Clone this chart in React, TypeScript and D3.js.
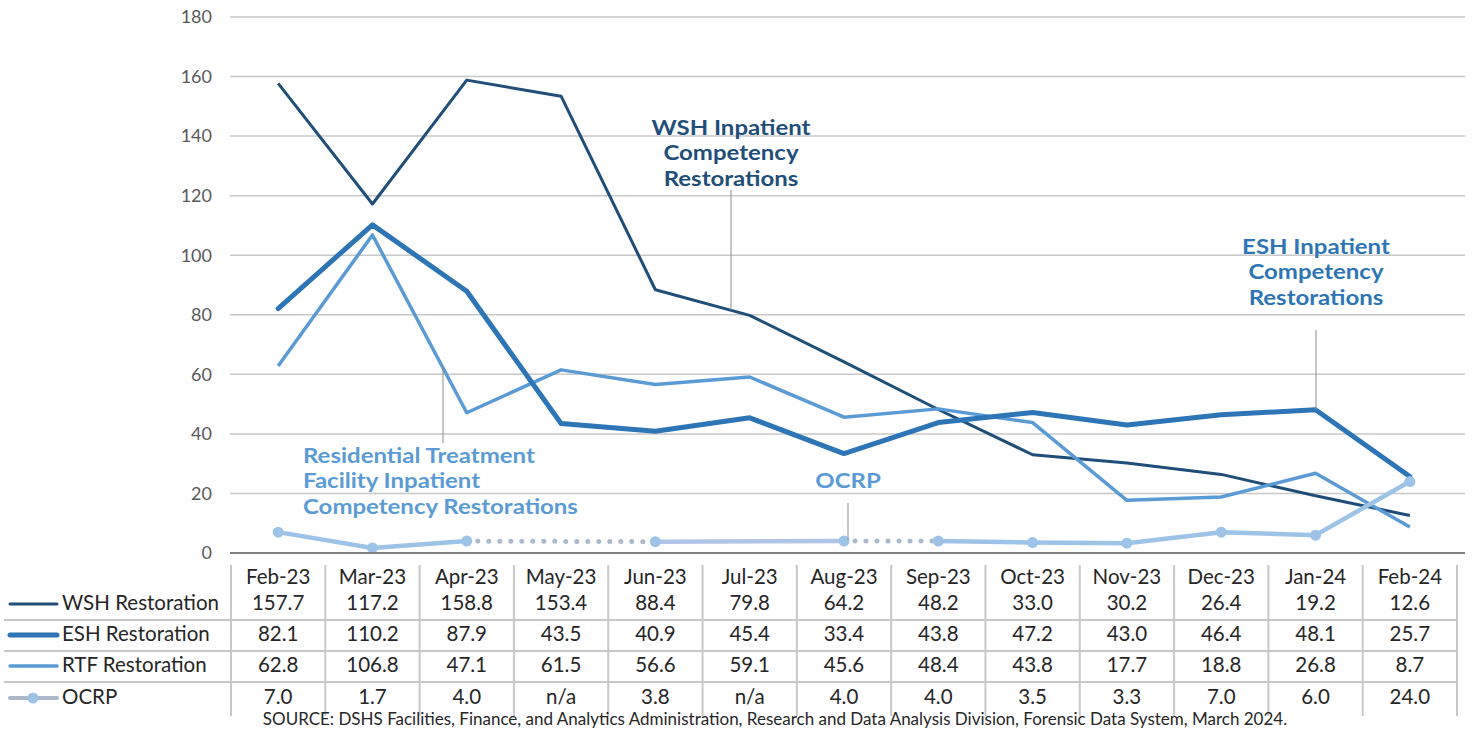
import * as d3 from 'd3'

const months = ['Feb-23', 'Mar-23', 'Apr-23', 'May-23', 'Jun-23', 'Jul-23', 'Aug-23', 'Sep-23', 'Oct-23', 'Nov-23', 'Dec-23', 'Jan-24', 'Feb-24']
const wsh = [157.7, 117.2, 158.8, 153.4, 88.4, 79.8, 64.2, 48.2, 33.0, 30.2, 26.4, 19.2, 12.6]
const esh = [82.1, 110.2, 87.9, 43.5, 40.9, 45.4, 33.4, 43.8, 47.2, 43.0, 46.4, 48.1, 25.7]
const rtf = [62.8, 106.8, 47.1, 61.5, 56.6, 59.1, 45.6, 48.4, 43.8, 17.7, 18.8, 26.8, 8.7]
const ocrp: (number | null)[] = [7.0, 1.7, 4.0, null, 3.8, null, 4.0, 4.0, 3.5, 3.3, 7.0, 6.0, 24.0]
// segments of the OCRP line drawn dotted / pale (keyed by start month)
const ocrpDotted = ['Apr-23', 'Aug-23']
const ocrpPale = ['Jun-23']
const yTicks = [0, 20, 40, 60, 80, 100, 120, 140, 160, 180]

const FONT = 'Lato, "Open Sans", sans-serif'
const C_WSH = '#1f4e79'
const C_ESH = '#2e75b6'
const C_RTF = '#5b9bd5'
const C_OCRP = '#9dc3e6'

const series = [
  { name: 'WSH Restoration', values: wsh as (number | null)[], color: C_WSH, width: 3 },
  { name: 'ESH Restoration', values: esh as (number | null)[], color: C_ESH, width: 5 },
  { name: 'RTF Restoration', values: rtf as (number | null)[], color: C_RTF, width: 3.5 },
  { name: 'OCRP', values: ocrp, color: C_OCRP, width: 4 },
]

function fmt(v: number | null) {
  return v === null ? 'n/a' : v.toFixed(1)
}

// bold multi-line callout, stretched a little to match the wide original face
function Callout({ x, y, lines, color, anchor = 'middle' }:
  { x: number; y: number; lines: string[]; color: string; anchor?: 'middle' | 'start' }) {
  return (
    <g transform={`translate(${x},${y}) scale(1.17,1)`}>
      {lines.map((l, i) => (
        <text key={l} x={0} y={i * 25.5} fontSize={20.5} fontWeight="bold" fill={color} textAnchor={anchor}>{l}</text>
      ))}
    </g>
  )
}

export default function App() {
  const W = 1472
  const H = 732
  const x = d3.scaleBand<string>().domain(months).range([231, 1457])
  const y = d3.scaleLinear().domain([0, 180]).range([553, 17])
  const cx = (m: string) => (x(m) ?? 0) + x.bandwidth() / 2

  const line = d3.line<number>()
    .x((_, i) => cx(months[i]))
    .y((d) => y(d))

  // OCRP points with values, connected across gaps
  const ocrpPts = months
    .map((m, i) => ({ m, v: ocrp[i] }))
    .filter((p) => p.v !== null) as { m: string; v: number }[]

  const rowY = [603, 634, 665, 697]
  const rowLines = [620, 651, 682]

  return (
    <svg width={W} height={H} style={{ position: 'absolute', left: 0, top: 0, background: '#fff' }} fontFamily={FONT}>
      {/* grid */}
      {yTicks.map((t) => (
        <g key={t}>
          {t > 0 && <line x1={230} x2={1465} y1={y(t)} y2={y(t)} stroke="#c8c8c8" strokeWidth={1.5} />}
          <text x={212} y={y(t)} dy="0.35em" textAnchor="end" fontSize={18} fill="#595959">{t}</text>
        </g>
      ))}

      {/* lines */}
      <path d={line(wsh) ?? ''} fill="none" stroke={C_WSH} strokeWidth={3} strokeLinejoin="round" />
      <path d={line(rtf) ?? ''} fill="none" stroke={C_RTF} strokeWidth={3.5} strokeLinejoin="round" />
      <path d={line(esh) ?? ''} fill="none" stroke={C_ESH} strokeWidth={5} strokeLinejoin="round" strokeLinecap="round" />

      {/* OCRP */}
      {ocrpPts.slice(0, -1).map((p, i) => {
        const q = ocrpPts[i + 1]
        const dotted = ocrpDotted.includes(p.m)
        const pale = ocrpPale.includes(p.m)
        return (
          <line key={p.m}
            x1={cx(p.m)} y1={y(p.v)} x2={cx(q.m)} y2={y(q.v)}
            stroke={dotted ? '#adb9ca' : pale ? '#b0c4e6' : C_OCRP}
            strokeWidth={dotted ? 5 : 4.5}
            strokeDasharray={dotted ? '0 11' : undefined}
            strokeLinecap="round" />
        )
      })}
      {ocrpPts.map((p) => (
        <circle key={p.m} cx={cx(p.m)} cy={y(p.v)} r={5.5} fill={C_OCRP} />
      ))}

      {/* zero axis */}
      <line x1={230} x2={1465} y1={y(0)} y2={y(0)} stroke="#808080" strokeWidth={2} />

      {/* annotations */}
      <line x1={731} x2={731} y1={190} y2={310} stroke="#8c8c8c" strokeWidth={1} />
      <Callout x={731} y={135} color={C_WSH} lines={['WSH Inpatient', 'Competency', 'Restorations']} />
      <line x1={1316} x2={1316} y1={330} y2={410} stroke="#8c8c8c" strokeWidth={1} />
      <Callout x={1316} y={254} color={C_ESH} lines={['ESH Inpatient', 'Competency', 'Restorations']} />
      <line x1={443} x2={443} y1={366} y2={443} stroke="#8c8c8c" strokeWidth={1} />
      <Callout x={303} y={463} color={C_RTF} anchor="start"
        lines={['Residential Treatment', 'Facility Inpatient', 'Competency Restorations']} />
      <line x1={848} x2={848} y1={503} y2={540} stroke="#8c8c8c" strokeWidth={1} />
      <Callout x={848} y={488} color={C_RTF} lines={['OCRP']} />

      {/* data table */}
      {months.map((m, i) => (
        <g key={m}>
          <line x1={x(m)! + x.bandwidth()} x2={x(m)! + x.bandwidth()} y1={565} y2={716}
            stroke="#c8c8c8" strokeWidth={2} />
          <text x={cx(m)} y={577} dy="0.35em" textAnchor="middle" fontSize={20.5} fill="#262626">{m}</text>
          {series.map((s, j) => (
            <text key={s.name} x={cx(m)} y={rowY[j]} dy="0.35em" textAnchor="middle" fontSize={20.5} fill="#262626">
              {fmt(s.values[i])}
            </text>
          ))}
        </g>
      ))}
      <line x1={231} x2={231} y1={565} y2={716} stroke="#c8c8c8" strokeWidth={2} />
      {rowLines.map((ly) => (
        <line key={ly} x1={4} x2={1457} y1={ly} y2={ly} stroke="#c8c8c8" strokeWidth={2} />
      ))}

      {/* legend keys */}
      {series.map((s, j) => (
        <g key={s.name}>
          <line x1={10} x2={57} y1={rowY[j] + 1} y2={rowY[j] + 1}
            stroke={s.name === 'OCRP' ? '#adb9ca' : s.color} strokeWidth={s.width} strokeLinecap="round" />
          {s.name === 'OCRP' && <circle cx={33} cy={rowY[j] + 1} r={5.5} fill={C_OCRP} />}
          <text x={62} y={rowY[j]} dy="0.35em" fontSize={20.5} fill="#262626">{s.name}</text>
        </g>
      ))}

      <text x={775} y={719} dy="0.35em" textAnchor="middle" fontSize={17} fill="#262626">
        SOURCE: DSHS Facilities, Finance, and Analytics Administration, Research and Data Analysis Division, Forensic Data System, March 2024.
      </text>
    </svg>
  )
}
